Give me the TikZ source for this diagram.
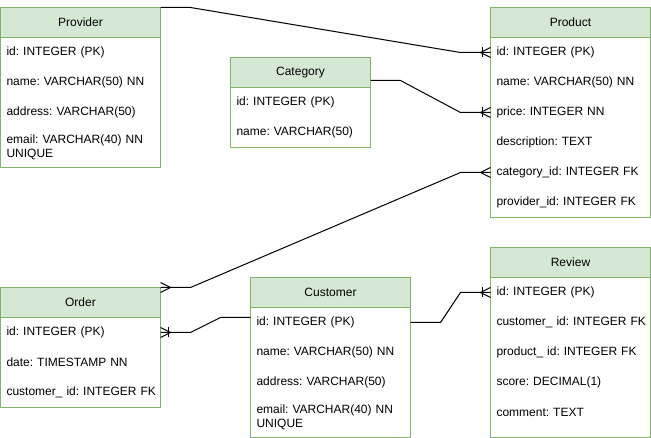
\documentclass[tikz,border=0pt]{standalone}
\usepackage{fontspec}
\setmainfont{Liberation Sans}
\usetikzlibrary{calc}
\definecolor{hdr}{HTML}{D5E8D4}
\definecolor{bdr}{HTML}{82B366}
\newcommand\fsz{\fontsize{12}{14}\selectfont\frenchspacing}
\tikzset{
  hbox/.style={draw=bdr, line width=1pt, fill=hdr, anchor=north west, inner sep=0pt, outer sep=0pt, minimum height=30pt, font=\fsz},
  bbox/.style={draw=bdr, line width=1pt, fill=white, anchor=north west, inner sep=0pt, outer sep=0pt},
  erow/.style={anchor=north west, inner xsep=6pt, inner ysep=0pt, outer sep=0pt, minimum height=30pt, align=left, font=\fsz, text width=152pt},
  crow/.style={anchor=north west, inner xsep=6pt, inner ysep=0pt, outer sep=0pt, minimum height=30pt, align=left, font=\fsz, text width=128pt},
  conn/.style={draw=black, line width=1pt},
}
\begin{document}
\begin{tikzpicture}[x=1pt,y=-1pt]
\useasboundingbox (0,0) rectangle (651,438);
% Provider
\node[hbox, minimum width=160pt] (provH) at (0.5,7.5) {Provider};
\node[bbox, minimum width=160pt, minimum height=130pt] (provB) at (0.5,37.5) {};
\node[erow] (provId) at (0.5,37.5) {id: INTEGER (PK)};
\node[erow] (provName) at (0.5,67.5) {name: VARCHAR(50) NN};
\node[erow] (provAddr) at (0.5,97.5) {address: VARCHAR(50)};
\node[erow, minimum height=40pt] (provMail) at (0.5,127.5) {email: VARCHAR(40) NN\\UNIQUE};
% Product
\node[hbox, minimum width=160pt] (prodH) at (490.5,7.5) {Product};
\node[bbox, minimum width=160pt, minimum height=180pt] (prodB) at (490.5,37.5) {};
\node[erow] (prodId) at (490.5,37.5) {id: INTEGER (PK)};
\node[erow] (prodName) at (490.5,67.5) {name: VARCHAR(50) NN};
\node[erow] (prodPrice) at (490.5,97.5) {price: INTEGER NN};
\node[erow] (prodDesc) at (490.5,127.5) {description: TEXT};
\node[erow] (prodCat) at (490.5,157.5) {category\_id: INTEGER FK};
\node[erow] (prodProv) at (490.5,187.5) {provider\_id: INTEGER FK};
% Category
\node[hbox, minimum width=140pt] (catH) at (230.5,57.5) {Category};
\node[bbox, minimum width=140pt, minimum height=60pt] (catB) at (230.5,87.5) {};
\node[crow] (catId) at (230.5,87.5) {id: INTEGER (PK)};
\node[crow] (catName) at (230.5,117.5) {name: VARCHAR(50)};
% Order
\node[hbox, minimum width=160pt] (ordH) at (0.5,287.5) {Order};
\node[bbox, minimum width=160pt, minimum height=90pt] (ordB) at (0.5,317.5) {};
\node[erow] (ordId) at (0.5,317.5) {id: INTEGER (PK)};
\node[erow] (ordDate) at (0.5,347.5) {date: TIMESTAMP NN};
\node[erow] (ordCust) at (0.5,377.5) {customer\_ id: INTEGER FK};
% Customer
\node[hbox, minimum width=160pt] (custH) at (250.5,277.5) {Customer};
\node[bbox, minimum width=160pt, minimum height=130pt] (custB) at (250.5,307.5) {};
\node[erow] (custId) at (250.5,307.5) {id: INTEGER (PK)};
\node[erow] (custName) at (250.5,337.5) {name: VARCHAR(50) NN};
\node[erow] (custAddr) at (250.5,367.5) {address: VARCHAR(50)};
\node[erow, minimum height=40pt] (custMail) at (250.5,397.5) {email: VARCHAR(40) NN\\UNIQUE};
% Review
\node[hbox, minimum width=160pt] (revH) at (490.5,247.5) {Review};
\node[bbox, minimum width=160pt, minimum height=160pt] (revB) at (490.5,277.5) {};
\node[erow] (revId) at (490.5,277.5) {id: INTEGER (PK)};
\node[erow] (revCust) at (490.5,307.5) {customer\_ id: INTEGER FK};
\node[erow] (revProd) at (490.5,337.5) {product\_ id: INTEGER FK};
\node[erow] (revScore) at (490.5,367.5) {score: DECIMAL(1)};
\node[erow] (revComm) at (490.5,397.5) {comment: TEXT};
% Connectors
% Provider -> Product
\draw[conn] (provH.north east) -- ++(30,0) -- ($(prodId.west)+(-30,0)$) -- (prodId.west);
\draw[conn] ($(prodId.west)+(0,-5)$) -- ++(-10,5) -- ++(10,5);
\draw[conn] ($(prodId.west)+(-8,-5)$) -- ++(0,10);
% Category -> Product
\coordinate (catOut) at ($(catH.east)+(0,8)$);
\draw[conn] (catOut) -- ++(30,0) -- ($(prodPrice.west)+(-30,0)$) -- (prodPrice.west);
\draw[conn] ($(prodPrice.west)+(0,-5)$) -- ++(-10,5) -- ++(10,5);
\draw[conn] ($(prodPrice.west)+(-8,-5)$) -- ++(0,10);
% Order -> Product
\draw[conn] (ordH.north east) -- ++(30,0) -- ($(prodCat.west)+(-30,0)$) -- (prodCat.west);
\draw[conn] ($(prodCat.west)+(0,-5)$) -- ++(-10,5) -- ++(10,5);
\draw[conn] ($(ordH.north east)+(0,-5)$) -- ++(10,5) -- ++(-10,5);
% Order -> Customer
\coordinate (ordOut) at (ordId -| ordB.east);
\coordinate (custIn) at ($(custId.west)+(0,-5)$);
\draw[conn] (ordOut) -- ++(30,0) -- ($(custIn)+(-30,0)$) -- (custIn);
\draw[conn] ($(ordOut)+(0,-5)$) -- ++(10,5) -- ++(-10,5);
\draw[conn] ($(ordOut)+(8,-5)$) -- ++(0,10);
% Customer -> Review
\coordinate (custOut) at (custId -| custB.east);
\draw[conn] (custOut) -- ++(30,0) -- ($(revId.west)+(-30,0)$) -- (revId.west);
\draw[conn] ($(revId.west)+(0,-5)$) -- ++(-10,5) -- ++(10,5);
\draw[conn] ($(revId.west)+(-8,-5)$) -- ++(0,10);
\end{tikzpicture}
\end{document}
